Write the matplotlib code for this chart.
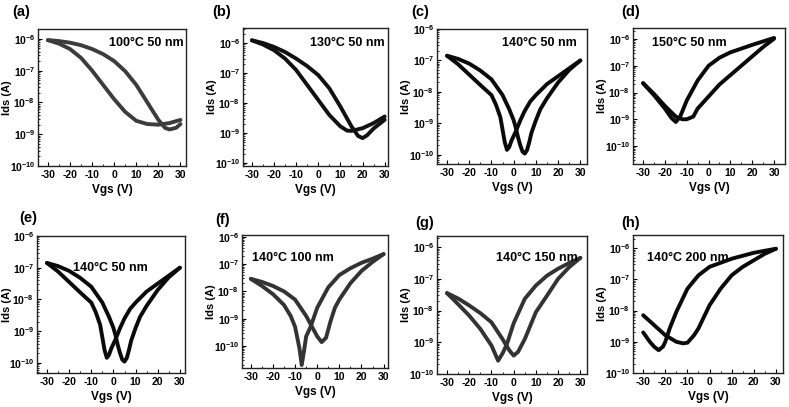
import numpy as np
import matplotlib
matplotlib.use("Agg")
import matplotlib.pyplot as plt
from matplotlib.ticker import FixedLocator, MultipleLocator

plt.rcParams['font.family'] = ['Liberation Sans', 'DejaVu Sans']
plt.rcParams['font.weight'] = 'bold'
plt.rcParams['axes.unicode_minus'] = False
plt.rcParams['mathtext.fontset'] = 'custom'
plt.rcParams['mathtext.bf'] = 'Liberation Sans:bold'
plt.rcParams['mathtext.rm'] = 'Liberation Sans:bold'

# Vgs (V) and log10(Ids / A), two sweeps per panel
a_v1 = [-30, -25, -20, -15, -10, -5, 0, 5, 10, 15, 20, 23, 25, 28, 30]
a_l1 = [-6.04, -6.07, -6.12, -6.2, -6.32, -6.48, -6.7, -7.02, -7.45, -8.0, -8.55, -8.8, -8.85, -8.8, -8.68]
a_v2 = [-30, -25, -20, -15, -10, -5, 0, 5, 10, 15, 20, 25, 30]
a_l2 = [-6.04, -6.15, -6.32, -6.6, -7.0, -7.45, -7.9, -8.3, -8.58, -8.68, -8.7, -8.65, -8.55]

b_v1 = [-30, -25, -20, -15, -10, -5, 0, 5, 10, 15, 18, 20, 22, 25, 30]
b_l1 = [-5.91, -6.0, -6.13, -6.3, -6.52, -6.77, -7.07, -7.51, -8.12, -8.78, -9.1, -9.17, -9.08, -8.85, -8.56]
b_v2 = [-30, -25, -20, -15, -10, -5, 0, 5, 10, 13, 15, 20, 25, 30]
b_l2 = [-5.91, -6.05, -6.24, -6.52, -6.9, -7.4, -7.9, -8.4, -8.78, -8.92, -8.93, -8.84, -8.67, -8.45]

c_v1 = [-30, -25, -20, -15, -10, -8, -6, -5, -4, -3, -2, -1, 1, 3, 5, 7.5, 10, 15, 20, 25, 30]
c_l1 = [-6.85, -7.12, -7.45, -7.78, -8.1, -8.4, -8.8, -9.2, -9.6, -9.84, -9.75, -9.55, -9.25,
        -8.9, -8.6, -8.3, -8.1, -7.75, -7.5, -7.25, -7.0]
c_v2 = [-30, -25, -20, -15, -10, -5, -2, 0, 1, 2, 3, 4, 5, 6, 7, 8, 10, 12, 15, 20, 25, 30]
c_l2 = [-6.85, -6.95, -7.1, -7.32, -7.6, -8.1, -8.55, -8.9, -9.15, -9.45, -9.7, -9.9, -9.96,
        -9.85, -9.6, -9.3, -8.9, -8.55, -8.2, -7.7, -7.3, -7.0]

d_v1 = [-30, -25, -20, -17, -15, -13, -10, -5, 0, 5, 10, 20, 30]
d_l1 = [-7.65, -8.1, -8.6, -8.95, -9.1, -8.9, -8.3, -7.55, -7.0, -6.7, -6.5, -6.22, -5.96]
d_v2 = [-30, -25, -20, -15, -12, -10, -7, -5, 0, 5, 10, 15, 20, 25, 30]
d_l2 = [-7.65, -8.05, -8.5, -8.9, -9.0, -9.0, -8.9, -8.6, -8.15, -7.7, -7.35, -7.0, -6.65, -6.3, -5.99]

# panel (e) repeats the 140 C 50 nm sweep of panel (c)
e_v1, e_l1, e_v2, e_l2 = c_v1, c_l1, c_v2, c_l2

f_v1 = [-30, -25, -20, -15, -12, -10, -8, -7, -6, -5, -3, 0, 5, 10, 15, 20, 25, 30]
f_l1 = [-7.54, -7.8, -8.1, -8.5, -8.9, -9.3, -10.1, -10.7, -10.2, -9.65, -9.3, -8.6, -7.85, -7.4, -7.15, -6.95, -6.8, -6.63]
f_v2 = [-30, -25, -20, -15, -10, -5, -2, 0, 2, 4, 6, 8, 10, 15, 20, 25, 30]
f_l2 = [-7.54, -7.65, -7.8, -8.0, -8.3, -8.9, -9.35, -9.65, -9.86, -9.7, -9.1, -8.6, -8.3, -7.7, -7.25, -6.92, -6.63]

g_v1 = [-30, -25, -20, -15, -10, -7, -5, -3, 0, 5, 10, 15, 20, 25, 30]
g_l1 = [-7.45, -7.8, -8.16, -8.58, -9.1, -9.58, -9.35, -9.05, -8.4, -7.63, -7.21, -6.9, -6.68, -6.5, -6.34]
g_v2 = [-30, -25, -20, -15, -10, -5, -2, 0, 2, 5, 10, 15, 20, 25, 30]
g_l2 = [-7.45, -7.62, -7.84, -8.08, -8.37, -8.9, -9.25, -9.42, -9.3, -8.9, -8.05, -7.53, -7.0, -6.63, -6.34]

h_v1 = [-30, -25, -20, -15, -12, -10, -7, -5, 0, 5, 10, 15, 20, 25, 30]
h_l1 = [-8.15, -8.47, -8.79, -9.0, -9.05, -9.03, -8.79, -8.57, -7.83, -7.3, -6.87, -6.6, -6.39, -6.18, -6.02]
h_v2 = [-30, -27, -25, -23, -21, -20, -18, -15, -10, -5, 0, 10, 20, 30]
h_l2 = [-8.7, -9.0, -9.16, -9.27, -9.15, -9.0, -8.57, -8.04, -7.3, -6.87, -6.6, -6.34, -6.15, -6.02]

panel_tags = ['(a)', '(b)', '(c)', '(d)', '(e)', '(f)', '(g)', '(h)']
conditions = ['100°C 50 nm', '130°C 50 nm', '140°C 50 nm', '150°C 50 nm',
              '140°C 50 nm', '140°C 100 nm', '140°C 150 nm', '140°C 200 nm']
sweeps = [(a_v1, a_l1, a_v2, a_l2), (b_v1, b_l1, b_v2, b_l2),
          (c_v1, c_l1, c_v2, c_l2), (d_v1, d_l1, d_v2, d_l2),
          (e_v1, e_l1, e_v2, e_l2), (f_v1, f_l1, f_v2, f_l2),
          (g_v1, g_l1, g_v2, g_l2), (h_v1, h_l1, h_v2, h_l2)]
ytick_exp = [-10, -9, -8, -7, -6]
xticks = [-30, -20, -10, 0, 10, 20, 30]

# layout in pixels (left, right, top, bottom) and per-panel limits
W, H = 789, 407
boxes = [(38, 186, 29, 166), (243, 388, 28, 166), (437, 587, 29, 164), (633, 785, 28, 164),
         (37, 185, 236, 373), (242, 388, 235, 368), (437, 587, 236, 374), (633, 783, 235, 373)]
ylims = [(-10.0, -5.69), (-10.1, -5.5), (-10.29, -6.0), (-10.67, -5.59),
         (-10.32, -6.0), (-10.81, -5.93), (-10.0, -5.65), (-10.0, -5.58)]
xlims = [(-34.5, 32.5), (-34, 31.5), (-34.5, 33), (-34.6, 35),
         (-34.5, 32.3), (-34, 32), (-34.5, 33), (-34.6, 33.2)]
colors = ['#3c3c3c', '#111111', '#0a0a0a', '#0a0a0a',
          '#0a0a0a', '#333333', '#333333', '#0a0a0a']
# annotation: (x px, y px, ha)
notes = [(184, 43, 'right'), (385, 43, 'right'), (577, 43, 'right'), (652, 43, 'left'),
         (73, 268, 'left'), (252, 258, 'left'), (578, 258, 'right'), (647, 258, 'left')]
tag_pos = [(12, 12), (212, 12), (411, 12), (621, 12),
           (19, 218), (215, 220), (415, 223), (621, 223)]
# right edge (px) of the rotated "Ids (A)" label
ylabel_x = [12, 217, 411, 607, 12, 216, 411, 607]

fig = plt.figure(figsize=(W / 100, H / 100), dpi=100)

for i in range(8):
    l, r, t, b = boxes[i]
    ax = fig.add_axes([l / W, 1 - b / H, (r - l) / W, (b - t) / H])
    v1, l1, v2, l2 = sweeps[i]
    ax.plot(v1, 10 ** np.array(l1), color=colors[i], lw=2.8, solid_joinstyle='round', solid_capstyle='round')
    ax.plot(v2, 10 ** np.array(l2), color=colors[i], lw=2.8, solid_joinstyle='round', solid_capstyle='round')
    ax.set_yscale('log')
    ax.set_ylim(10 ** ylims[i][0], 10 ** ylims[i][1])
    ax.set_xlim(*xlims[i])
    ax.set_xticks(xticks)
    ax.xaxis.set_minor_locator(MultipleLocator(5))
    ax.set_yticks([10.0 ** e for e in ytick_exp])
    ax.set_yticklabels([r'$\mathbf{10^{%d}}$' % e for e in ytick_exp])
    ax.yaxis.set_minor_locator(FixedLocator([m * 10.0 ** e for e in range(-11, -5) for m in range(2, 10)]))
    ax.yaxis.set_minor_formatter(plt.NullFormatter())
    ax.tick_params(which='both', direction='in', labelsize=7.5, pad=2)
    ax.tick_params(axis='x', pad=3)
    ax.tick_params(which='major', length=3, width=0.8)
    ax.tick_params(which='minor', length=1.5, width=0.6)
    for lab in ax.get_xticklabels():
        lab.set_fontweight('bold')
    for sp in ax.spines.values():
        sp.set_linewidth(1.0)
        sp.set_color('#222222')
    ax.set_xlabel('Vgs (V)', fontsize=8.5, fontweight='bold', labelpad=3)
    ax.set_ylabel('Ids (A)', fontsize=8, fontweight='bold')
    ax.yaxis.set_label_coords((ylabel_x[i] - l) / (r - l), 0.5)

    nx, ny, ha = notes[i]
    fig.text(nx / W, 1 - ny / H, conditions[i], fontsize=9, fontweight='bold', ha=ha, va='center')
    tx, ty = tag_pos[i]
    fig.text(tx / W, 1 - ty / H, panel_tags[i], fontsize=10.5, fontweight='bold', ha='left', va='center')

fig.savefig('out.png', dpi=100)
